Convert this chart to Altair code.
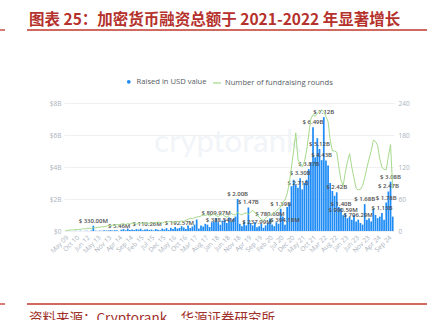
import altair as alt
import pandas as pd

# ---------------- data ----------------
early_months = ["May 09", "Aug 09", "Nov 09", "Feb 10", "Jun 10", "Oct 10", "Jan 11",
                "Apr 11", "Aug 11", "Jan 12", "Jun 12", "Aug 12", "Oct 12", "Dec 12",
                "Mar 13", "May 13", "Jul 13", "Aug 13", "Sep 13", "Oct 13"]
late_months = list(pd.date_range("2013-11-01", "2024-11-01", freq="MS").strftime("%b %y"))
months = early_months + late_months

raised_busd = [
    0.0, 0.0, 0.01, 0.0, 0.0, 0.01, 0.0, 0.02, 0.0, 0.01, 0.02, 0.0, 0.03,
    0.33,
    0.02, 0.01, 0.03, 0.02, 0.05, 0.03, 0.04, 0.06, 0.03, 0.05, 0.04,
    0.005,
    0.08, 0.12, 0.05, 0.15, 0.07, 0.1, 0.06, 0.12, 0.09, 0.14, 0.05, 0.1,
    0.11,
    0.06, 0.09, 0.04, 0.12, 0.08, 0.05, 0.15, 0.1, 0.18, 0.07, 0.2, 0.12, 0.25, 0.15,
    0.19,
    0.3, 0.22, 0.12, 0.35, 0.18, 0.28, 0.4,
    0.72,
    0.15, 0.35, 0.28, 0.45, 0.4, 0.25, 0.55, 0.6,
    0.81, 0.55, 0.39,
    0.65, 0.7, 0.5, 0.85, 0.6, 0.75, 0.9,
    2.0,
    0.45, 0.3, 0.6, 0.35,
    1.47,
    0.5, 0.35, 0.55,
    0.24,
    0.3, 0.45, 0.2, 0.35, 0.5,
    0.78,
    0.4, 0.3, 0.55, 0.45,
    1.39,
    0.9, 0.39, 1.5, 1.7,
    2.8, 3.2, 2.9, 2.71, 3.3, 2.6, 3.0, 3.2, 3.87, 4.3, 6.49, 4.6, 5.8, 5.12, 4.43,
    7.12, 4.4, 4.1, 3.0, 2.5, 2.2, 2.42, 1.5, 1.4, 0.99, 1.1,
    0.8, 0.9, 0.7, 1.0, 0.6, 0.71, 0.5, 0.4, 1.68, 0.7, 0.8, 0.6, 1.4, 1.0, 0.8,
    0.9, 1.13, 0.7, 1.78, 2.47, 3.08, 0.9,
]

rounds = [
    1, 1, 2, 2, 2, 3, 3, 3, 4, 4, 5, 5, 5,
    6, 6, 7, 7, 8, 8, 9, 10, 10, 11, 11, 12,
    12, 13, 14, 12, 14, 13, 15, 14, 13, 14, 15, 14, 16, 15, 14, 15,
    16, 15, 17, 16, 15, 17, 16, 18, 17, 16, 17, 18, 17, 19, 18,
    20, 22, 24, 23, 25, 26, 27, 28, 30, 29, 31, 28, 30, 32, 29,
    27, 30, 31, 28, 26, 29, 33, 31, 30, 35, 32, 30, 33, 34, 31,
    36, 38, 35, 30, 26, 22, 20, 24, 28, 30, 32, 34, 38, 42,
    45, 55, 58, 70, 90, 120, 150, 184, 135, 125, 120, 130, 150, 180, 210,
    218, 215, 220, 225, 227, 224, 215, 205, 170, 150, 150, 148, 120, 95, 85,
    110, 130, 145, 120, 100, 80, 77, 78, 85, 100, 118, 135, 150, 170, 168,
    160, 135, 120, 115, 115, 140, 162, 80,
]

label_idx = [13, 25, 38, 53, 70, 72, 80, 85, 89, 95, 100, 102, 108, 109, 113,
             115, 118, 119, 120, 126, 128, 129, 136, 139, 147, 149, 150, 151]
label_text = ["$ 330.00M", "$ 5.46M", "$ 110.26M", "$ 192.57M", "$ 809.97M",
              "$ 388.54M", "$ 2.00B", "$ 1.47B", "$ 237.99M", "$ 780.60M",
              "$ 1.39B", "$ 394.18M", "$ 2.71B", "$ 3.30B", "$ 3.87B", "$ 6.49B",
              "$ 5.12B", "$ 4.43B", "$ 7.12B", "$ 2.42B", "$ 1.40B", "$ 990.59M",
              "$ 706.29M", "$ 1.68B", "$ 1.13B", "$ 1.78B", "$ 2.47B", "$ 3.08B"]

usd_ticks = [0, 2, 4, 6, 8]
round_ticks = [0, 60, 120, 180, 240]

title_text = "图表 25：加密货币融资总额于 2021-2022 年显著增长"
source_text = "资料来源：Cryptorank，华源证券研究所"
series_names = ["Raised in USD value", "Number of fundraising rounds"]

# ---------------- styling ----------------
BLUE = "#1f8cf5"
GREEN = "#a6da8d"
RED = "#c0392b"
AX = "#a9b1bc"
W, H = 330, 128
PL, PT = 64, 103

df = pd.DataFrame({"month": months, "raised": raised_busd, "rounds": rounds,
                   "s1": series_names[0], "s2": series_names[1]})
lab = pd.DataFrame({
    "month": [months[i] for i in label_idx],
    "raised": [raised_busd[i] for i in label_idx],
    "text": label_text,
})

xenc = alt.X(
    "month:N", sort=months,
    scale=alt.Scale(paddingInner=0.2, paddingOuter=0.2),
    axis=alt.Axis(values=months[::5], labelAngle=-45, labelFontSize=6.5,
                  labelColor=AX, ticks=False, domain=False, title=None,
                  labelPadding=3, labelFont="Open Sans", labelOverlap=False),
)

watermark = alt.Chart(pd.DataFrame({"t": ["cryptorank"]})).mark_text(
    font="Lato", fontSize=31, color="#f1f4f8", align="center", baseline="middle"
).encode(text="t:N", x=alt.value(164), y=alt.value(40))

bars = alt.Chart(df).mark_bar().encode(
    x=xenc,
    y=alt.Y("raised:Q", scale=alt.Scale(domain=[0, 8]),
            axis=alt.Axis(values=usd_ticks,
                          labelExpr="datum.value == 0 ? '$0' : '$' + datum.value + 'B'",
                          grid=True, gridColor="#eef0f3", domain=False, ticks=False,
                          title=None, labelColor=AX, labelFontSize=6.5,
                          labelPadding=3, labelFont="Open Sans")),
    color=alt.Color("s1:N",
                    scale=alt.Scale(domain=[series_names[0]], range=[BLUE]),
                    legend=alt.Legend(orient="none", legendX=61, legendY=-25,
                                      symbolType="circle", symbolSize=14,
                                      title=None, labelFontSize=7.6,
                                      labelColor="#555b63", labelFont="Open Sans",
                                      labelOffset=4)),
)

labels = alt.Chart(lab).mark_text(
    fontSize=6, font="Open Sans", fontWeight=600, color="#4d4d4d",
    baseline="bottom", dy=-2
).encode(
    x=xenc,
    y=alt.Y("raised:Q", scale=alt.Scale(domain=[0, 8]), axis=None),
    text="text:N",
)

line = alt.Chart(df).mark_line(strokeWidth=1).encode(
    x=xenc,
    y=alt.Y("rounds:Q", scale=alt.Scale(domain=[0, 240]),
            axis=alt.Axis(orient="right", values=round_ticks, grid=False,
                          domain=False, ticks=False, title=None, labelColor=AX,
                          labelFontSize=6.5, labelPadding=4, labelFont="Open Sans")),
    stroke=alt.Stroke("s2:N",
                      scale=alt.Scale(domain=[series_names[1]], range=[GREEN]),
                      legend=alt.Legend(orient="none", legendX=148, legendY=-25,
                                        symbolSize=64, symbolStrokeWidth=1.2,
                                        title=None, labelFontSize=7.6,
                                        labelColor="#555b63", labelFont="Open Sans",
                                        labelOffset=3)),
)

one = pd.DataFrame({"k": [0]})
title = alt.Chart(pd.DataFrame({"t": [title_text]})).mark_text(
    font="Noto Sans CJK SC", fontSize=15.5, fontWeight="bold", color="#b5312c",
    align="left", baseline="middle"
).encode(text="t:N", x=alt.value(29 - PL), y=alt.value(19.5 - PT))

rule_top = alt.Chart(one).mark_rule(color=RED, strokeWidth=1.3).encode(
    x=alt.value(27 - PL), x2=alt.value(427 - PL), y=alt.value(30 - PT))
stub_top = alt.Chart(one).mark_rule(color=RED, strokeWidth=1.3).encode(
    x=alt.value(0 - PL), x2=alt.value(5 - PL), y=alt.value(30 - PT))
rule_bot = alt.Chart(one).mark_rule(color=RED, strokeWidth=1.3).encode(
    x=alt.value(27 - PL), x2=alt.value(427 - PL), y=alt.value(304 - PT))
stub_bot = alt.Chart(one).mark_rule(color=RED, strokeWidth=1.3).encode(
    x=alt.value(0 - PL), x2=alt.value(5 - PL), y=alt.value(304 - PT))
source = alt.Chart(pd.DataFrame({"t": [source_text]})).mark_text(
    font="Noto Sans CJK SC", fontSize=13.5, color="#a0302a",
    align="left", baseline="top"
).encode(text="t:N", x=alt.value(29 - PL), y=alt.value(312 - PT))

chart = alt.layer(
    watermark, bars, labels, line, title, rule_top, stub_top, rule_bot, stub_bot, source
).resolve_scale(y="independent").properties(
    width=W, height=H,
    padding={"left": PL, "top": PT, "right": 437 - PL - W, "bottom": 320 - PT - H},
    autosize=alt.AutoSizeParams(type="none"),
    background="white",
).configure_view(stroke=None)

chart.save("out.html", embed_options={"renderer": "svg", "actions": False})
